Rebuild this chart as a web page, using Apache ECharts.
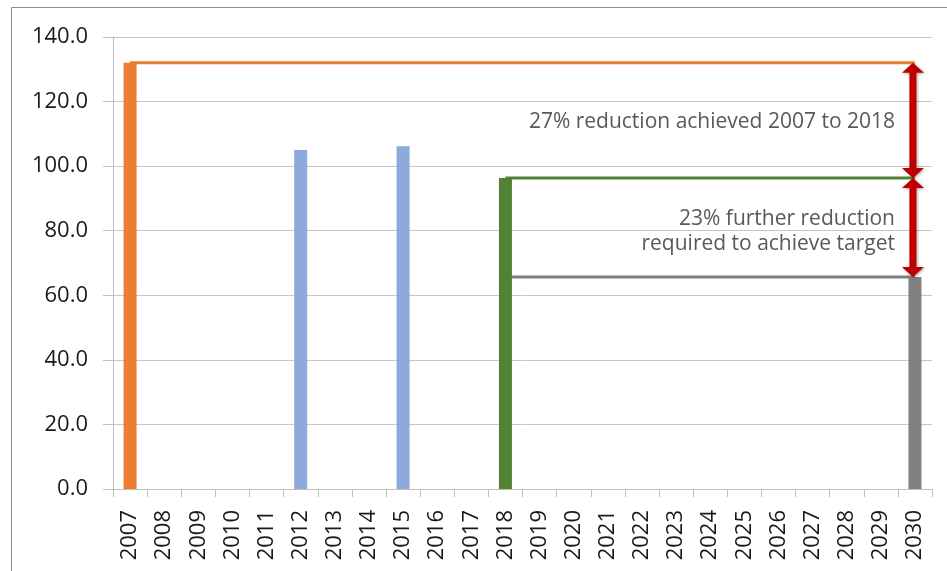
<!DOCTYPE html>
<html>
<head>
<meta charset="utf-8">
<script src="https://cdn.jsdelivr.net/npm/echarts@6/dist/echarts.min.js"></script>
<style>html,body{margin:0;padding:0;background:#fff}#c{width:947px;height:571px}</style>
</head>
<body>
<div id="c"></div>
<script>
const years = ['2007','2008','2009','2010','2011','2012','2013','2014','2015','2016','2017','2018','2019','2020','2021','2022','2023','2024','2025','2026','2027','2028','2029','2030'];
const yTicks = [0, 20, 40, 60, 80, 100, 120, 140];
const barYears = ['2007', '2012', '2015', '2018', '2030'];
const barValues = [132, 105, 106.2, 96.3, 65.7];
const baselineLine = [['2007', 132], ['2030', 132]];
const currentLine = [['2018', 96.3], ['2030', 96.3]];
const targetLine = [['2018', 65.7], ['2030', 65.7]];
const arrows = [['2030', 132, 96.3], ['2030', 96.3, 65.7]];
const notes = ['27% reduction achieved 2007 to 2018', '23% further reduction', 'required to achieve target'];

const barColors = ['#ED7D31', '#8EA9DB', '#8EA9DB', '#548235', '#808080'];
const FONT = 'Open Sans';
const NOTE_FONT = '21px "Open Sans"';

const chart = echarts.init(document.getElementById('c'), null, {renderer: 'canvas'});
chart.setOption({
  animation: false,
  backgroundColor: '#fff',
  grid: {left: 113, right: 15, top: 37, bottom: 82},
  xAxis: {
    type: 'category',
    data: years,
    boundaryGap: true,
    axisLine: {lineStyle: {color: '#bfbfbf', width: 1}},
    axisTick: {show: true, length: 8, lineStyle: {color: '#bfbfbf'}},
    axisLabel: {rotate: 90, margin: 21, color: '#1a1a1a', fontFamily: FONT, fontSize: 22, interval: 0}
  },
  yAxis: {
    type: 'value',
    min: yTicks[0], max: yTicks[yTicks.length - 1], interval: 20,
    axisLine: {show: true, lineStyle: {color: '#bfbfbf'}},
    axisTick: {show: true, length: 10, lineStyle: {color: '#bfbfbf'}},
    splitLine: {lineStyle: {color: '#c6c6c6', width: 1}},
    axisLabel: {margin: 25, color: '#1a1a1a', fontFamily: FONT, fontSize: 22,
      formatter: v => v.toFixed(1)}
  },
  graphic: [
    {type: 'rect', shape: {x: 11.5, y: 7.5, width: 980, height: 620}, style: {fill: null, stroke: '#8c8c8c', lineWidth: 1}, silent: true},
    {type: 'text', right: 52, top: 112, style: {text: notes[0], fill: '#595959', font: NOTE_FONT, textAlign: 'right'}},
    {type: 'text', right: 52, top: 209, style: {text: notes[1], fill: '#595959', font: NOTE_FONT, textAlign: 'right'}},
    {type: 'text', right: 52, top: 234, style: {text: notes[2], fill: '#595959', font: NOTE_FONT, textAlign: 'right'}}
  ],
  series: [
    {
      type: 'bar', barWidth: 13, z: 2,
      data: barYears.map((y, i) => ({value: [y, barValues[i]], itemStyle: {color: barColors[i]}}))
    },
    {type: 'line', data: baselineLine, symbol: 'none', z: 3, lineStyle: {color: '#ED7D31', width: 3}},
    {type: 'line', data: currentLine, symbol: 'none', z: 3, lineStyle: {color: '#548235', width: 3}},
    {type: 'line', data: targetLine, symbol: 'none', z: 1, lineStyle: {color: '#7f7f7f', width: 3}},
    {
      type: 'custom', z: 5,
      encode: {x: 0, y: [1, 2]},
      data: arrows,
      renderItem: function (params, api) {
        const idx = api.value(0);
        const p1 = api.coord([idx, api.value(1)]);
        const p2 = api.coord([idx, api.value(2)]);
        const x = p1[0] - 2, t = p1[1], b = p2[1];
        const hw = 11, hh = 10, sw = 3.5;
        return {
          type: 'polygon',
          shape: {points: [
            [x, t], [x - hw, t + hh], [x - sw, t + hh], [x - sw, b - hh], [x - hw, b - hh],
            [x, b], [x + hw, b - hh], [x + sw, b - hh], [x + sw, t + hh], [x + hw, t + hh]
          ]},
          style: {fill: '#C00000', shadowBlur: 3, shadowColor: 'rgba(0,0,0,0.35)', shadowOffsetX: 1, shadowOffsetY: 1}
        };
      }
    }
  ]
});
</script>
</body>
</html>
